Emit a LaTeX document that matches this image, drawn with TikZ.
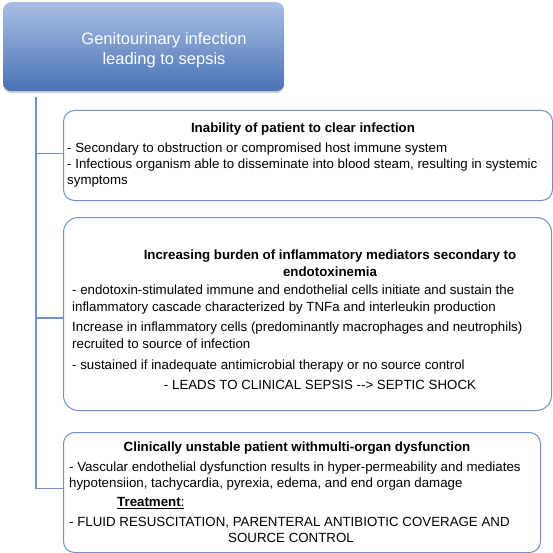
\documentclass[tikz,border=0pt]{standalone}
\usepackage{fontspec}
\setmainfont{Liberation Sans}
\usetikzlibrary{shadows}
\definecolor{lineblue}{RGB}{112,144,200}
\definecolor{gradtop}{RGB}{170,190,228}
\definecolor{gradbot}{RGB}{72,114,180}
\begin{document}
\begin{tikzpicture}[x=1pt,y=-1pt,
  box/.style={draw=lineblue, line width=1pt, rounded corners=11pt, anchor=north west, inner sep=0pt},
  txt/.style={anchor=base west, inner sep=0pt, font=\fontsize{13.3}{16}\selectfont},
  ctxt/.style={anchor=base, inner sep=0pt, font=\fontsize{13.3}{16}\selectfont},
  btxt/.style={anchor=base, inner sep=0pt, font=\fontsize{13.3}{16}\selectfont\bfseries},
  link/.style={draw=lineblue, line width=1.2pt}]
\useasboundingbox (0,0) rectangle (553,553);
% top box
\node[anchor=north west, inner sep=0pt, minimum width=281pt, minimum height=89pt,
  rounded corners=8pt, top color=gradtop, bottom color=gradbot, draw=none,
  drop shadow={shadow xshift=0pt, shadow yshift=-2pt, opacity=0.35}] (head) at (3,2) {};
\node[align=center, inner sep=0pt, text=white, font=\fontsize{16.5}{20}\selectfont] (headtxt) at (164,50) {Genitourinary infection\\leading to sepsis};
% boxes
\node[box, minimum width=489pt, minimum height=90pt] (b1) at (63,110) {};
\node[box, rounded corners=15pt, minimum width=488pt, minimum height=193pt] (b2) at (63,217) {};
\node[box, minimum width=477pt, minimum height=120pt] (b3) at (63,432) {};
% connectors
\coordinate (spine) at (36,97);
\draw[link] (spine) |- ([yshift=2pt]b1.west);
\draw[link] (spine) |- ([yshift=-4pt]b2.west);
\draw[link] (spine) |- ([yshift=4pt]b3.west);
% box 1 text
\node[btxt] (t1a) at (303,132.5) {Inability of patient to clear infection};
\node[txt] (t1b) at (67,152.5) {- Secondary to obstruction or compromised host immune system};
\node[txt] (t1c) at (67,169) {- Infectious organism able to disseminate into blood steam, resulting in systemic};
\node[txt] (t1d) at (67,185) {symptoms};
% box 2 text
\node[btxt] (t2a) at (330,259) {Increasing burden of inflammatory mediators secondary to};
\node[btxt] (t2b) at (330,276) {endotoxinemia};
\node[txt] (t2c) at (72,294.5) {- endotoxin-stimulated immune and endothelial cells initiate and sustain the};
\node[txt] (t2d) at (72,311) {inflammatory cascade characterized by TNFa and interleukin production};
\node[txt] (t2e) at (72,331) {Increase in inflammatory cells (predominantly macrophages and neutrophils)};
\node[txt] (t2f) at (72,348) {recruited to source of infection};
\node[txt] (t2g) at (72,369.5) {- sustained if inadequate antimicrobial therapy or no source control};
\node[ctxt] (t2h) at (320,389.5) {- LEADS TO CLINICAL SEPSIS -{}-{}> SEPTIC SHOCK};
% box 3 text
\node[btxt] (t3a) at (297,451.5) {Clinically unstable patient withmulti-organ dysfunction};
\node[txt] (t3b) at (69,471.5) {- Vascular endothelial dysfunction results in hyper-permeability and mediates};
\node[txt] (t3c) at (69,487.5) {hypotensiion, tachycardia, pyrexia, edema, and end organ damage};
\node[txt] (t3d) at (117,506.5) {\underline{\textbf{Treatment}:}};
\node[txt] (t3e) at (69,526.5) {- FLUID RESUSCITATION, PARENTERAL ANTIBIOTIC COVERAGE AND};
\node[ctxt] (t3f) at (291,542.5) {SOURCE CONTROL};
\end{tikzpicture}
\end{document}
